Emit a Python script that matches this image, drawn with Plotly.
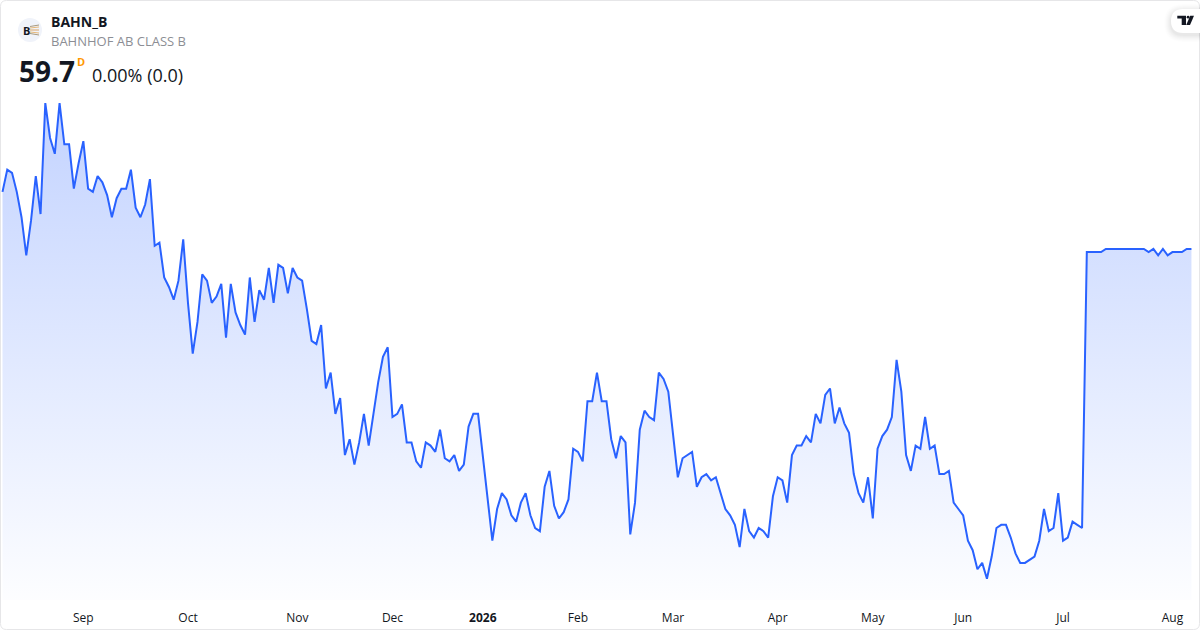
import plotly.graph_objects as go

# daily closes, one per session
prices = [
    61.5, 62.2, 62.1, 61.5, 60.7, 59.5, 60.6, 62.0, 60.8, 64.3,
    63.2, 62.7, 64.3, 63.0, 63.0, 61.6, 62.4, 63.1, 61.6, 61.5,
    62.0, 61.8, 61.4, 60.7, 61.3, 61.6, 61.6, 62.2, 61.0, 60.7,
    61.1, 61.9, 59.8, 59.9, 58.8, 58.5, 58.1, 58.7, 60.0, 58.0,
    56.4, 57.4, 58.9, 58.7, 58.0, 58.2, 58.6, 56.9, 58.6, 57.7,
    57.3, 57.0, 58.8, 57.4, 58.4, 58.1, 59.1, 58.0, 59.2, 59.1,
    58.3, 59.1, 58.8, 58.7, 57.8, 56.8, 56.7, 57.3, 55.3, 55.8,
    54.5, 55.0, 53.2, 53.7, 52.9, 53.6, 54.5, 53.5, 54.5, 55.5,
    56.3, 56.6, 54.4, 54.5, 54.8, 53.6, 53.6, 53.0, 52.8, 53.6,
    53.5, 53.3, 54.0, 53.1, 53.0, 53.2, 52.7, 52.9, 54.1, 54.5,
    54.5, 53.1, 51.8, 50.5, 51.5, 52.0, 51.8, 51.3, 51.1, 51.7,
    52.0, 51.3, 50.9, 50.8, 52.2, 52.7, 51.6, 51.2, 51.4, 51.8,
    53.4, 53.3, 53.0, 54.9, 54.9, 55.8, 54.9, 54.9, 53.7, 53.1,
    53.8, 53.6, 50.7, 51.7, 54.0, 54.6, 54.4, 54.3, 55.8, 55.6,
    55.2, 53.8, 52.5, 53.1, 53.2, 53.3, 52.2, 52.5, 52.6, 52.4,
    52.5, 52.0, 51.5, 51.3, 51.0, 50.3, 51.5, 50.8, 50.6, 50.9,
    50.8, 50.6, 51.9, 52.5, 52.4, 51.7, 53.2, 53.5, 53.5, 53.8,
    53.6, 54.5, 54.2, 55.1, 55.3, 54.2, 54.7, 54.2, 53.9, 52.6,
    52.0, 51.7, 52.5, 51.2, 53.4, 53.8, 54.0, 54.4, 56.2, 55.2,
    53.2, 52.7, 53.5, 53.4, 54.4, 53.4, 53.5, 52.6, 52.6, 52.7,
    51.7, 51.5, 51.3, 50.5, 50.2, 49.6, 49.8, 49.3, 50.0, 50.9,
    51.0, 51.0, 50.6, 50.1, 49.8, 49.8, 49.9, 50.0, 50.5, 51.5,
    50.8, 50.9, 52.0, 50.5, 50.6, 51.1, 51.0, 50.9, 59.6, 59.6,
    59.6, 59.6, 59.7, 59.7, 59.7, 59.7, 59.7, 59.7, 59.7, 59.7,
    59.7, 59.6, 59.7, 59.5, 59.7, 59.5, 59.6, 59.6, 59.6, 59.7,
    59.7,
]
tick_positions = [17, 39, 62, 82, 101, 121, 141, 163, 183, 202, 223, 246]
tick_labels = ["Sep", "Oct", "Nov", "Dec", "<b>2026</b>", "Feb", "Mar", "Apr", "May", "Jun", "Jul", "Aug"]

W, H = 1200, 630
BOTTOM = 30
FONT = "Open Sans"


# header and badges are placed in pixels measured from the top left corner
def px(x):
    return x / W


def py(y):
    return (H - BOTTOM - y) / (H - BOTTOM)


def label(x, y, text, size, color, anchor="left"):
    return dict(xref="paper", yref="paper", x=px(x), y=py(y), text=text, showarrow=False,
                xanchor=anchor, yanchor="middle", font=dict(family=FONT, size=size, color=color),
                borderpad=0, borderwidth=0)


def path(points, close=True):
    d = "M " + " L ".join(f"{px(a):.5f},{py(b):.5f}" for a, b in points)
    return d + (" Z" if close else "")


def rounded_box(x0, y0, x1, y1, r):
    return (f"M {px(x0 + r):.5f},{py(y0):.5f} L {px(x1 - r):.5f},{py(y0):.5f} "
            f"Q {px(x1):.5f},{py(y0):.5f} {px(x1):.5f},{py(y0 + r):.5f} L {px(x1):.5f},{py(y1 - r):.5f} "
            f"Q {px(x1):.5f},{py(y1):.5f} {px(x1 - r):.5f},{py(y1):.5f} L {px(x0 + r):.5f},{py(y1):.5f} "
            f"Q {px(x0):.5f},{py(y1):.5f} {px(x0):.5f},{py(y1 - r):.5f} L {px(x0):.5f},{py(y0 + r):.5f} "
            f"Q {px(x0):.5f},{py(y0):.5f} {px(x0 + r):.5f},{py(y0):.5f} Z")


fig = go.Figure()
fig.add_trace(go.Scatter(
    x=list(range(len(prices))),
    y=prices,
    mode="lines",
    line=dict(color="#2962ff", width=2),
    fill="tozeroy",
    fillgradient=dict(
        type="vertical",
        start=64.3,
        stop=48.6,
        colorscale=[[0, "rgba(41,98,255,0.28)"], [1, "rgba(41,98,255,0.01)"]],
    ),
    hoverinfo="skip",
))

shapes = [
    # card outline
    dict(type="path", xref="paper", yref="paper", path=rounded_box(0.5, 0.5, 1199.5, 629.5, 6),
         line=dict(color="#e6e6e8", width=1), layer="above"),
    # logo badge
    dict(type="circle", xref="paper", yref="paper", x0=px(18), y0=py(18), x1=px(42), y1=py(42),
         fillcolor="#f0f3fa", line=dict(width=0), layer="above"),
]
for y0, y1, colour in [(26.5, 25, "#a89a80"), (28, 27, "#e8b878"), (30, 30, "#d8a468"),
                       (32, 33, "#e8b878"), (33.5, 35, "#a89a80")]:
    shapes.append(dict(type="path", xref="paper", yref="paper", path=path([(30, y0), (39, y1)], close=False),
                       line=dict(color=colour, width=1), layer="above"))
# tradingview badge with a soft shadow, running off the right edge
for grow, alpha in [(7, 0.006), (6, 0.008), (5, 0.01), (4, 0.012), (3, 0.014), (2, 0.016), (1, 0.018)]:
    shapes.append(dict(type="path", xref="paper", yref="paper",
                       path=rounded_box(1171 - grow, 9 - grow + 2, 1215, 33 + grow + 2, 12 + grow),
                       fillcolor=f"rgba(0,0,0,{alpha})", line=dict(width=0), layer="above"))
shapes.append(dict(type="path", xref="paper", yref="paper", path=rounded_box(1171, 9, 1215, 33, 12),
                   fillcolor="#ffffff", line=dict(width=0), layer="above"))
shapes.append(dict(type="path", xref="paper", yref="paper",
                   path=path([(1177.3, 15.8), (1186, 15.8), (1186, 25), (1181.7, 25), (1181.7, 18.6), (1177.3, 18.6)]),
                   fillcolor="#131722", line=dict(width=0), layer="above"))
shapes.append(dict(type="circle", xref="paper", yref="paper", x0=px(1186.7), y0=py(15.8), x1=px(1189.5), y1=py(18.6),
                   fillcolor="#131722", line=dict(width=0), layer="above"))
shapes.append(dict(type="path", xref="paper", yref="paper",
                   path=path([(1190.2, 15.8), (1194, 15.8), (1190, 25), (1186.2, 25)]),
                   fillcolor="#131722", line=dict(width=0), layer="above"))

annotations = [
    label(22.5, 30.5, "<b>B</b>", 11, "#131722"),
    label(51, 21, "<b>BAHN_B</b>", 14, "#131722"),
    label(51, 41, "BAHNHOF AB CLASS B", 13, "#8c8e94"),
    label(19, 71, "<b>59.7</b>", 28, "#131722"),
    label(77, 61, "<b>D</b>", 11, "#ff9800"),
    label(92, 75, "0.00% (0.0)", 18, "#131722"),
]

fig.update_layout(
    width=W,
    height=H,
    margin=dict(l=0, r=0, t=0, b=BOTTOM),
    paper_bgcolor="#ffffff",
    plot_bgcolor="#ffffff",
    showlegend=False,
    shapes=shapes,
    annotations=annotations,
    xaxis=dict(
        range=[-0.526, 251.8],
        tickmode="array",
        tickvals=tick_positions,
        ticktext=tick_labels,
        showgrid=False,
        zeroline=False,
        showline=False,
        ticks="",
        tickangle=0,
        ticklabelstandoff=9,
        tickfont=dict(family=FONT, size=12, color="#131722"),
    ),
    yaxis=dict(range=[48.63, 67.55], visible=False, showgrid=False, zeroline=False),
)

# the page's default body margin would push the 1200x630 figure off the window
fig.write_html("out.html", config=dict(displayModeBar=False),
               post_script="document.body.style.margin='0';document.body.style.overflow='hidden';")
